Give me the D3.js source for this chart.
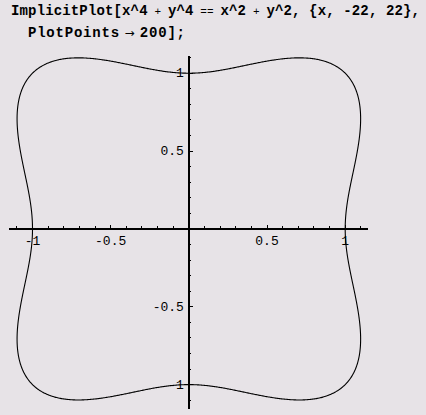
<!DOCTYPE html>
<html><head><meta charset="utf-8">
<script src="https://cdn.jsdelivr.net/npm/d3@7"></script>
<style>html,body{margin:0;padding:0;background:#e7e3e7;} svg{display:block}</style>
</head><body>
<svg id="c" width="426" height="415"></svg>
<script>
// ---- data ----
const titleLine1 = ["ImplicitPlot[x^4", " + ", "y^4", " == ", "x^2", " + ", "y^2, {x, -22, 22},"];
const titleLine2 = ["PlotPoints", " → ", "200];"];
const equationPowers = [4, 2];          // x^4 + y^4 == x^2 + y^2
const sampleRange = [-1.2, 1.2];        // region sampled for the implicit curve
const gridPoints = 400;
const xAxisExtent = [-1.152, 1.145];
const yAxisExtent = [-1.155, 1.11];
const xMajorTicks = [-1, -0.5, 0.5, 1];
const xTickLabels = ["-1", "-0.5", "0.5", "1"];
const yMajorTicks = [-1, -0.5, 0.5, 1];
const yTickLabels = ["-1", "-0.5", "0.5", "1"];
const minorTicks = [-1.1, -0.9, -0.8, -0.7, -0.6, -0.4, -0.3, -0.2, -0.1, 0.1, 0.2, 0.3, 0.4, 0.6, 0.7, 0.8, 0.9, 1.1];

// ---- scales ----
const svg = d3.select("#c");
const x = d3.scaleLinear().domain([-1, 1]).range([32.5, 345.2]);
const y = d3.scaleLinear().domain([-1, 1]).range([384.6, 73.2]);

// ---- title ----
function title(parts, xPos, yPos, len) {
  const t = svg.append("text").attr("x", xPos).attr("y", yPos)
    .attr("font-family", "'Liberation Mono', 'DejaVu Sans Mono', monospace")
    .attr("font-weight", "bold").attr("font-size", 14).attr("fill", "#000")
    .attr("xml:space", "preserve").style("white-space", "pre")
    .attr("textLength", len).attr("lengthAdjust", "spacing");
  parts.forEach(p => {
    const s = t.append("tspan").text(p);
    const k = p.trim();
    if (k === "+" || k === "==") s.attr("font-weight", "normal").attr("font-size", 11);
    if (k === "→") s.attr("font-weight", "normal").attr("font-family", "'DejaVu Sans', sans-serif").attr("font-size", 12);
  });
}
title(titleLine1, 11, 15, 409);
title(titleLine2, 28, 37, 157);

// ---- implicit curve via d3.contours ----
const n = gridPoints;
const d = (sampleRange[1] - sampleRange[0]) / (n - 1);
const values = new Float64Array(n * n);
for (let j = 0; j < n; j++) {
  const yy = sampleRange[1] - j * d;
  for (let i = 0; i < n; i++) {
    const xx = sampleRange[0] + i * d;
    const f = Math.pow(xx, equationPowers[0]) + Math.pow(yy, equationPowers[0])
            - Math.pow(xx, equationPowers[1]) - Math.pow(yy, equationPowers[1]);
    values[j * n + i] = -f;
  }
}
const contour = d3.contours().size([n, n]).thresholds([0])(values);
const proj = d3.geoTransform({
  point(cx, cy) {
    this.stream.point(x(sampleRange[0] + (cx - 0.5) * d), y(sampleRange[1] - (cy - 0.5) * d));
  }
});
svg.append("path").datum(contour[0]).attr("d", d3.geoPath(proj))
  .attr("fill", "none").attr("stroke", "#000").attr("stroke-width", 1.1);

// ---- axes ----
const ax = svg.append("g").attr("stroke", "#000").attr("shape-rendering", "crispEdges");
ax.append("line").attr("x1", x(xAxisExtent[0])).attr("x2", x(xAxisExtent[1]))
  .attr("y1", y(0)).attr("y2", y(0)).attr("stroke-width", 1.4);
ax.append("line").attr("y1", y(yAxisExtent[0])).attr("y2", y(yAxisExtent[1]))
  .attr("x1", x(0)).attr("x2", x(0)).attr("stroke-width", 1.4);
// x ticks (upward)
ax.selectAll(".xmaj").data(xMajorTicks).join("line")
  .attr("x1", v => x(v)).attr("x2", v => x(v)).attr("y1", y(0)).attr("y2", y(0) - 4);
ax.selectAll(".xmin").data(minorTicks).join("line")
  .attr("x1", v => x(v)).attr("x2", v => x(v)).attr("y1", y(0)).attr("y2", y(0) - 2.5);
// y ticks (rightward)
ax.selectAll(".ymaj").data(yMajorTicks).join("line")
  .attr("y1", v => y(v)).attr("y2", v => y(v)).attr("x1", x(0)).attr("x2", x(0) + 4);
ax.selectAll(".ymin").data(minorTicks).join("line")
  .attr("y1", v => y(v)).attr("y2", v => y(v)).attr("x1", x(0)).attr("x2", x(0) + 2.5);

// tick labels
const lab = svg.append("g").attr("font-family", "'Liberation Mono', 'DejaVu Sans Mono', monospace")
  .attr("font-size", 13).attr("fill", "#000");
lab.selectAll(".xl").data(xMajorTicks).join("text")
  .attr("x", v => x(v)).attr("y", y(0) + 16).attr("text-anchor", "middle")
  .text((v, i) => xTickLabels[i]);
lab.selectAll(".yl").data(yMajorTicks).join("text")
  .attr("x", x(0) - 5).attr("y", v => y(v) + 4).attr("text-anchor", "end")
  .text((v, i) => yTickLabels[i]);
</script>
</body></html>
